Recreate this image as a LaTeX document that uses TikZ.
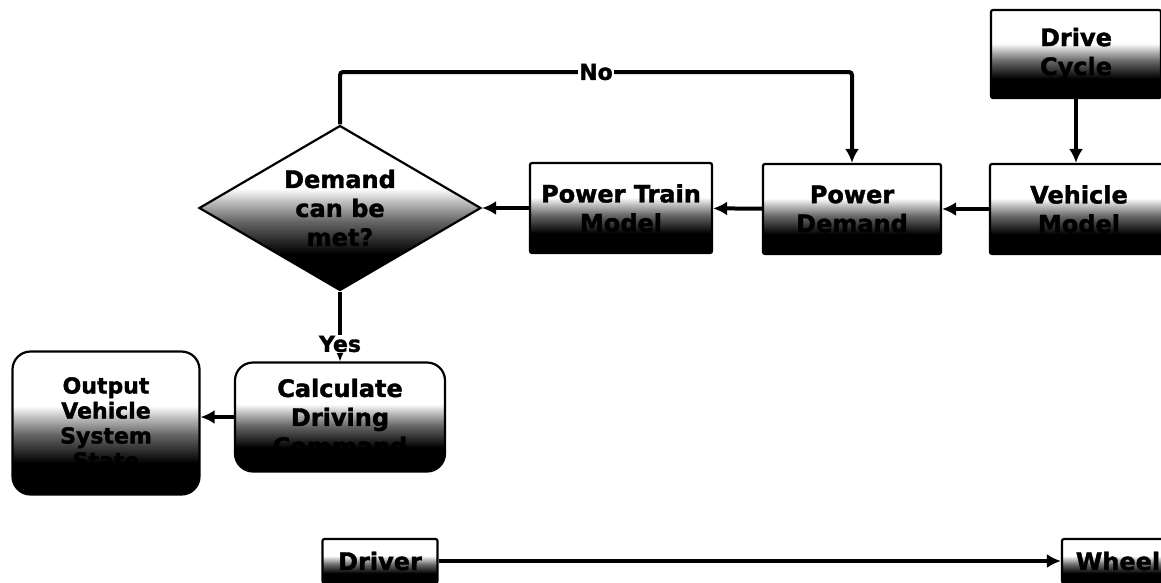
\documentclass[tikz,border=0pt]{standalone}
\usepackage{fontspec}
\newfontfamily\flowfont{DejaVu Sans Bold}[FakeBold=1.6]
\usetikzlibrary{shapes.geometric,arrows.meta}
\pgfdeclareverticalshading{boxfade}{100bp}{color(0bp)=(black); color(36bp)=(black); color(46bp)=(black!60); color(52bp)=(black!25); color(56bp)=(white); color(100bp)=(white)}
\begin{document}
\begin{tikzpicture}[x=1pt, y=-1pt, >={Latex[length=14pt,width=14pt]}, line width=4pt,
  font=\flowfont\fontsize{24}{29}\selectfont,
  block/.style={draw, line width=2.2pt, rounded corners=2pt, shading=boxfade, align=center, inner sep=2pt},
  roundblock/.style={block, rounded corners=18pt},
  decision/.style={draw, line width=2.2pt, diamond, shading=boxfade, align=center, inner sep=0pt, aspect=1.71},
  answer/.style={fill=white, inner sep=1pt, font=\flowfont\fontsize{22}{26}\selectfont}]
\clip (0,0) rectangle (1161,582);
\fill[white] (0,0) rectangle (1161,582);
\node[block, minimum width=170pt, minimum height=88pt] (cycle) at (1076,54) {Drive\\Cycle};
\node[block, minimum width=178pt, minimum height=90pt] (vehicle) at (1079,209) {Vehicle\\Model};
\node[block, minimum width=178pt, minimum height=90pt] (demand) at (852,209) {Power\\Demand};
\node[block, minimum width=182pt, minimum height=90pt] (train) at (621,208) {Power Train\\Model};
\node[decision, minimum width=282pt, minimum height=165pt] (met) at (340,208) {Demand\\can be\\met?};
\node[roundblock, minimum width=210pt, minimum height=109pt] (command) at (340,417) {Calculate\\Driving\\Command};
\node[roundblock, minimum width=187pt, minimum height=143pt, font=\flowfont\fontsize{22}{25}\selectfont] (output) at (106,423) {Output\\Vehicle\\System\\State};
\node[block, minimum width=115pt, minimum height=44pt] (driver) at (380,561) {Driver};
\node[block, minimum width=112pt, minimum height=44pt] (wheel) at (1118,561) {Wheel};
\coordinate (noturn) at (340,72);
\draw[->] (cycle.south) -- (cycle.south |- vehicle.north);
\draw[->] (vehicle) -- (demand);
\draw[->] (demand) -- (train);
\draw[->] (train.west) -- (train.west -| met.east);
\draw[->, rounded corners=3pt] (met.north) -- (noturn) -| node[pos=0.25, answer] {No} (demand.north);
\draw[->] (met.south) -- node[pos=0.75, answer] {Yes} (command.north);
\draw[->] (command.west) -- (command.west -| output.east);
\draw[->] (driver) -- (wheel);
\end{tikzpicture}
\end{document}
